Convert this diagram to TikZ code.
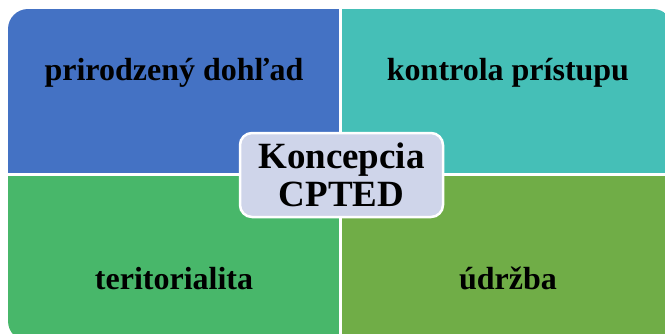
\documentclass[tikz,border=0pt]{standalone}
\usepackage{fontspec}
\setmainfont{Liberation Serif}
\usetikzlibrary{calc}
\tikzstyle{quad} = [
    anchor=base,
    inner sep=0pt,
    font=\fontsize{32}{38}\selectfont\bfseries,
]
\tikzstyle{core} = [
    rectangle,
    rounded corners=12pt,
    align=center,
    minimum width=203pt,
    minimum height=84pt,
    text centered,
    fill=colorc,
    draw=white,
    line width=2.5pt,
    font=\fontsize{37}{38}\selectfont\bfseries,
]
\definecolor{color1}{HTML}{4472C4}
\definecolor{color2}{HTML}{45BFB7}
\definecolor{color3}{HTML}{48B76A}
\definecolor{color4}{HTML}{70AD47}
\definecolor{colorc}{HTML}{CFD5EA}
\begin{document}
\begin{tikzpicture}[x=1pt,y=-1pt]
    \useasboundingbox (0,0) rectangle (665,333);
    % four fields, outer corners rounded
    \begin{scope}
        \clip[rounded corners=20pt] (8,9) rectangle (673,341);
        \fill[color1] (8,9) rectangle (339,173);
        \fill[color2] (342,9) rectangle (673,173);
        \fill[color3] (8,176) rectangle (339,341);
        \fill[color4] (342,176) rectangle (673,341);
    \end{scope}

    \node (pd) [quad] at (174,80) {prirodzený dohľad};
    \node (kp) [quad] at (508,80) {kontrola prístupu};
    \node (te) [quad] at (174,289) {teritorialita};
    \node (ud) [quad] at (508,289) {údržba};

    \node (cp) [core] at (341.5,175) {Koncepcia\\ CPTED};
\end{tikzpicture}
\end{document}
